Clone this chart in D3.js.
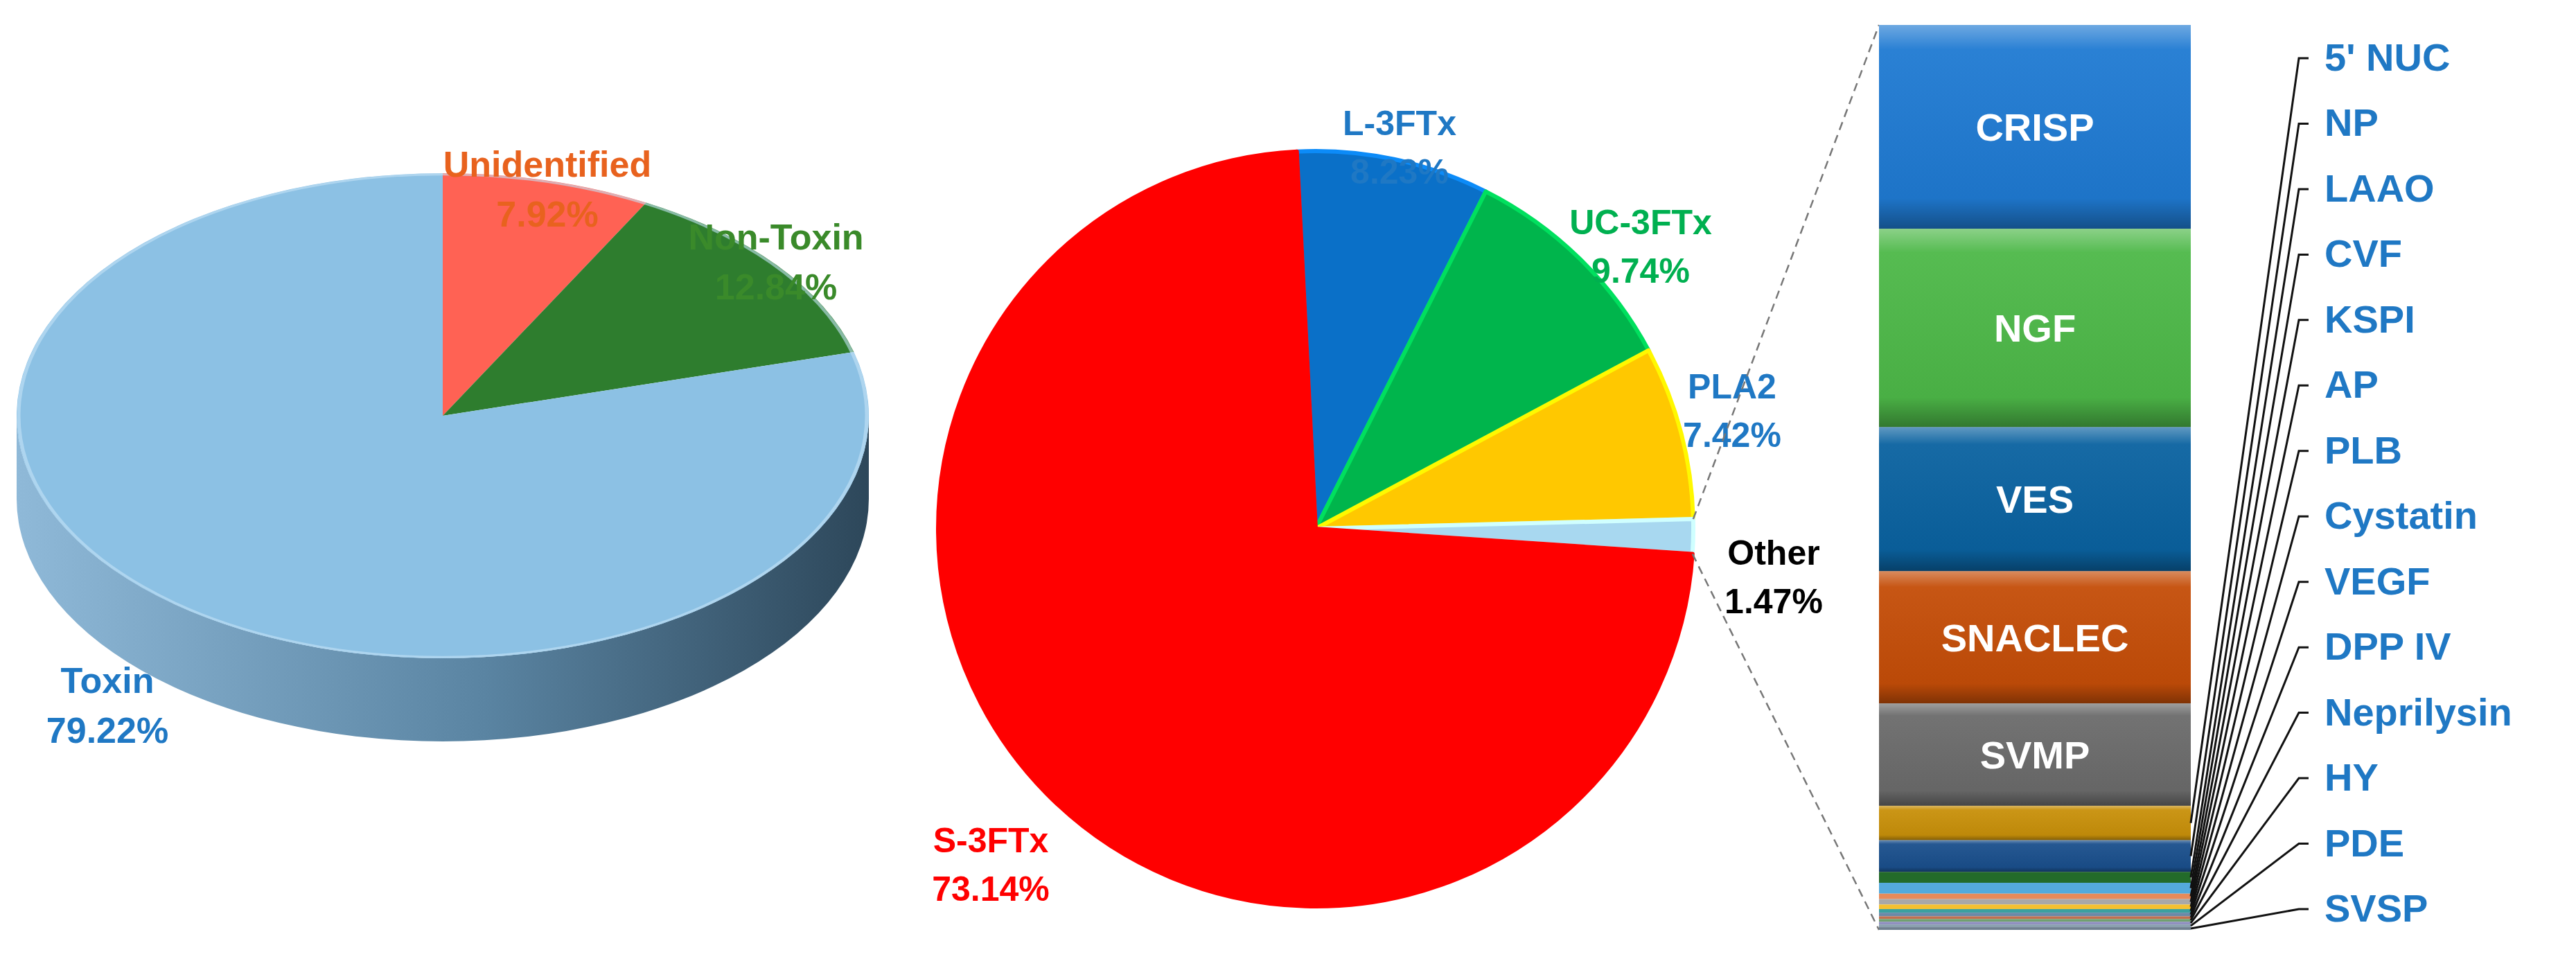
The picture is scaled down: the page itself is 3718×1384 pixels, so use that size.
<!DOCTYPE html>
<html><head><meta charset="utf-8">
<script src="https://cdn.jsdelivr.net/npm/d3@7"></script>
<style>body{margin:0;background:#fff}svg{display:block}text{font-family:"Liberation Sans",Arial,sans-serif;font-weight:bold}</style>
</head><body><svg id="chart" width="3718" height="1384"></svg>
<script>
// Left pie: overall composition
const mainNames = ['Unidentified', 'Non-Toxin', 'Toxin'];
const mainValues = [7.92, 12.84, 79.22];
const mainColors = ['#ff6254', '#2e7d2e', '#8cc1e4'];
const mainLabelColors = ['#e8621e', '#3a8a2a', '#1f78c4'];

// Middle pie: toxin families
const toxNames = ['L-3FTx', 'UC-3FTx', 'PLA2', 'Other', 'S-3FTx'];
const toxValues = [8.23, 9.74, 7.42, 1.47, 73.14];
const toxColors = ['#0a70c8', '#00b54c', '#ffc800', '#a8d8f0', '#ff0000'];
const toxLabelColors = ['#1f78c4', '#00b050', '#1f78c4', '#000000', '#ff0000'];

// Stacked bar: breakdown of "Other"
const otherNames = ['CRISP', 'NGF', 'VES', 'SNACLEC', 'SVMP', "5' NUC", 'NP', 'LAAO', 'CVF', 'KSPI', 'AP', 'PLB', 'Cystatin', 'VEGF', 'DPP IV', 'Neprilysin', 'HY', 'PDE', 'SVSP'];
const otherValues = [22.5, 21.9, 15.9, 14.6, 11.3, 3.8, 3.5, 1.2, 1.2, 0.6, 0.6, 0.5, 0.4, 0.4, 0.3, 0.3, 0.3, 0.3, 0.3];
const otherColors = ['#1f7ad2', '#4db848', '#0a62a0', '#c44d08', '#6b6b6b', '#c8900a', '#1a4f8c', '#236b2a', '#54aadc', '#e88a5a', '#a8a8a8', '#f4c030', '#3aa0a0', '#6a8aa8', '#c07050', '#70a070', '#9090c0', '#8aa0b0', '#708090'];

const svg = d3.select('#chart');
const defs = svg.append('defs');

// ---------- left 3D pie ----------
const L = {cx: 639, cy: 600, rx: 615, ry: 350, depth: 120};
const sideGrad = defs.append('linearGradient').attr('id', 'side');
sideGrad.append('stop').attr('offset', '0%').attr('stop-color', '#8fb9d8');
sideGrad.append('stop').attr('offset', '55%').attr('stop-color', '#5a84a2');
sideGrad.append('stop').attr('offset', '100%').attr('stop-color', '#2d475a');

const left = svg.append('g');
left.append('path')
  .attr('d', `M${L.cx - L.rx},${L.cy} L${L.cx - L.rx},${L.cy + L.depth}
    A${L.rx},${L.ry} 0 0 0 ${L.cx + L.rx},${L.cy + L.depth}
    L${L.cx + L.rx},${L.cy} A${L.rx},${L.ry} 0 0 1 ${L.cx - L.rx},${L.cy} Z`)
  .attr('fill', 'url(#side)');

const pieL = d3.pie().sort(null)(mainValues);
const arcL = d3.arc().innerRadius(0).outerRadius(L.rx);
const topFace = left.append('g').attr('transform', `translate(${L.cx},${L.cy}) scale(1,${L.ry / L.rx})`);
topFace.selectAll('path').data(pieL).join('path')
  .attr('d', arcL).attr('fill', (d, i) => mainColors[i]);
topFace.append('ellipse').attr('rx', L.rx - 3).attr('ry', L.rx - 3)
  .attr('fill', 'none').attr('stroke', '#c4e2f6').attr('stroke-width', 5).attr('opacity', 0.6);

const mainLabelPos = [[790, 255], [1120, 360], [155, 1000]];
mainNames.forEach((n, i) => {
  const t = svg.append('text').attr('x', mainLabelPos[i][0]).attr('y', mainLabelPos[i][1])
    .attr('text-anchor', 'middle').attr('font-size', 52).attr('fill', mainLabelColors[i]);
  t.append('tspan').attr('x', mainLabelPos[i][0]).text(n);
  t.append('tspan').attr('x', mainLabelPos[i][0]).attr('dy', 72).text(mainValues[i].toFixed(2) + '%');
});

// ---------- middle pie ----------
const M = {cx: 1899, cy: 763, r: 545};
const pieM = d3.pie().sort(null).startAngle(-0.05).endAngle(2 * Math.PI - 0.05)(toxValues);
const arcM = d3.arc().innerRadius(0).outerRadius(M.r);
const mid = svg.append('g').attr('transform', `translate(${M.cx},${M.cy})`);
mid.selectAll('path').data(pieM).join('path')
  .attr('d', arcM).attr('fill', (d, i) => toxColors[i])
  .attr('stroke', (d, i) => d3.color(toxColors[i]).brighter(0.6)).attr('stroke-width', 6)
  .attr('stroke-linejoin', 'round');

const toxLabelPos = [[2020, 195], [2368, 338], [2500, 575], [2560, 815], [1430, 1230]];
toxNames.forEach((n, i) => {
  const t = svg.append('text').attr('x', toxLabelPos[i][0]).attr('y', toxLabelPos[i][1])
    .attr('text-anchor', 'middle').attr('font-size', 50).attr('fill', toxLabelColors[i]);
  t.append('tspan').attr('x', toxLabelPos[i][0]).text(n);
  t.append('tspan').attr('x', toxLabelPos[i][0]).attr('dy', 70).text(toxValues[i].toFixed(2) + '%');
});

// leader lines from "Other" slice to the bar
const B = {x: 2712, w: 450, y0: 36, y1: 1342};
const otherArc = pieM[3];
const pA = d3.pointRadial(otherArc.startAngle, M.r), pB = d3.pointRadial(otherArc.endAngle, M.r);
svg.append('line').attr('x1', M.cx + pA[0]).attr('y1', M.cy + pA[1]).attr('x2', B.x).attr('y2', B.y0)
  .attr('stroke', '#777').attr('stroke-width', 2.5).attr('stroke-dasharray', '12,8');
svg.append('line').attr('x1', M.cx + pB[0]).attr('y1', M.cy + pB[1]).attr('x2', B.x).attr('y2', B.y1)
  .attr('stroke', '#777').attr('stroke-width', 2.5).attr('stroke-dasharray', '12,8');

// ---------- stacked bar ----------
const total = d3.sum(otherValues);
const y = d3.scaleLinear().domain([0, total]).range([B.y0, B.y1]);
const cum = d3.cumsum(otherValues);
const segs = otherValues.map((v, i) => ({name: otherNames[i], v, a: cum[i] - v, b: cum[i], i}));

const shade = defs.append('linearGradient').attr('id', 'shade').attr('x1', 0).attr('x2', 0).attr('y1', 0).attr('y2', 1);
[['0%', '#fff', 0.35], ['12%', '#fff', 0.05], ['85%', '#000', 0.05], ['100%', '#000', 0.35]]
  .forEach(s => shade.append('stop').attr('offset', s[0]).attr('stop-color', s[1]).attr('stop-opacity', s[2]));

const bar = svg.append('g');
bar.selectAll('rect.seg').data(segs).join('rect').attr('class', 'seg')
  .attr('x', B.x).attr('width', B.w).attr('y', d => y(d.a)).attr('height', d => y(d.b) - y(d.a))
  .attr('fill', d => otherColors[d.i]);
bar.selectAll('rect.sh').data(segs.filter(d => d.i < 7)).join('rect').attr('class', 'sh')
  .attr('x', B.x).attr('width', B.w).attr('y', d => y(d.a)).attr('height', d => y(d.b) - y(d.a))
  .attr('fill', 'url(#shade)');
bar.selectAll('text').data(segs.filter(d => d.i < 5)).join('text')
  .attr('x', B.x + B.w / 2).attr('y', d => (y(d.a) + y(d.b)) / 2 + 20)
  .attr('text-anchor', 'middle').attr('font-size', 56).attr('fill', '#fff').text(d => d.name);

// small-segment labels with connector lines
const small = segs.filter(d => d.i >= 5);
const labelY = d3.scaleLinear().domain([0, small.length - 1]).range([72, 1300]);
const lab = svg.append('g');
small.forEach((d, k) => {
  const ly = labelY(k);
  const sy = (y(d.a) + y(d.b)) / 2;
  lab.append('path')
    .attr('d', `M${B.x + B.w},${sy} L${3318},${ly + 12} L${3332},${ly + 12}`)
    .attr('fill', 'none').attr('stroke', '#111').attr('stroke-width', 3);
  lab.append('text').attr('x', 3355).attr('y', ly + 30).attr('font-size', 56)
    .attr('fill', '#1f78c4').text(d.name);
});
</script></body></html>
